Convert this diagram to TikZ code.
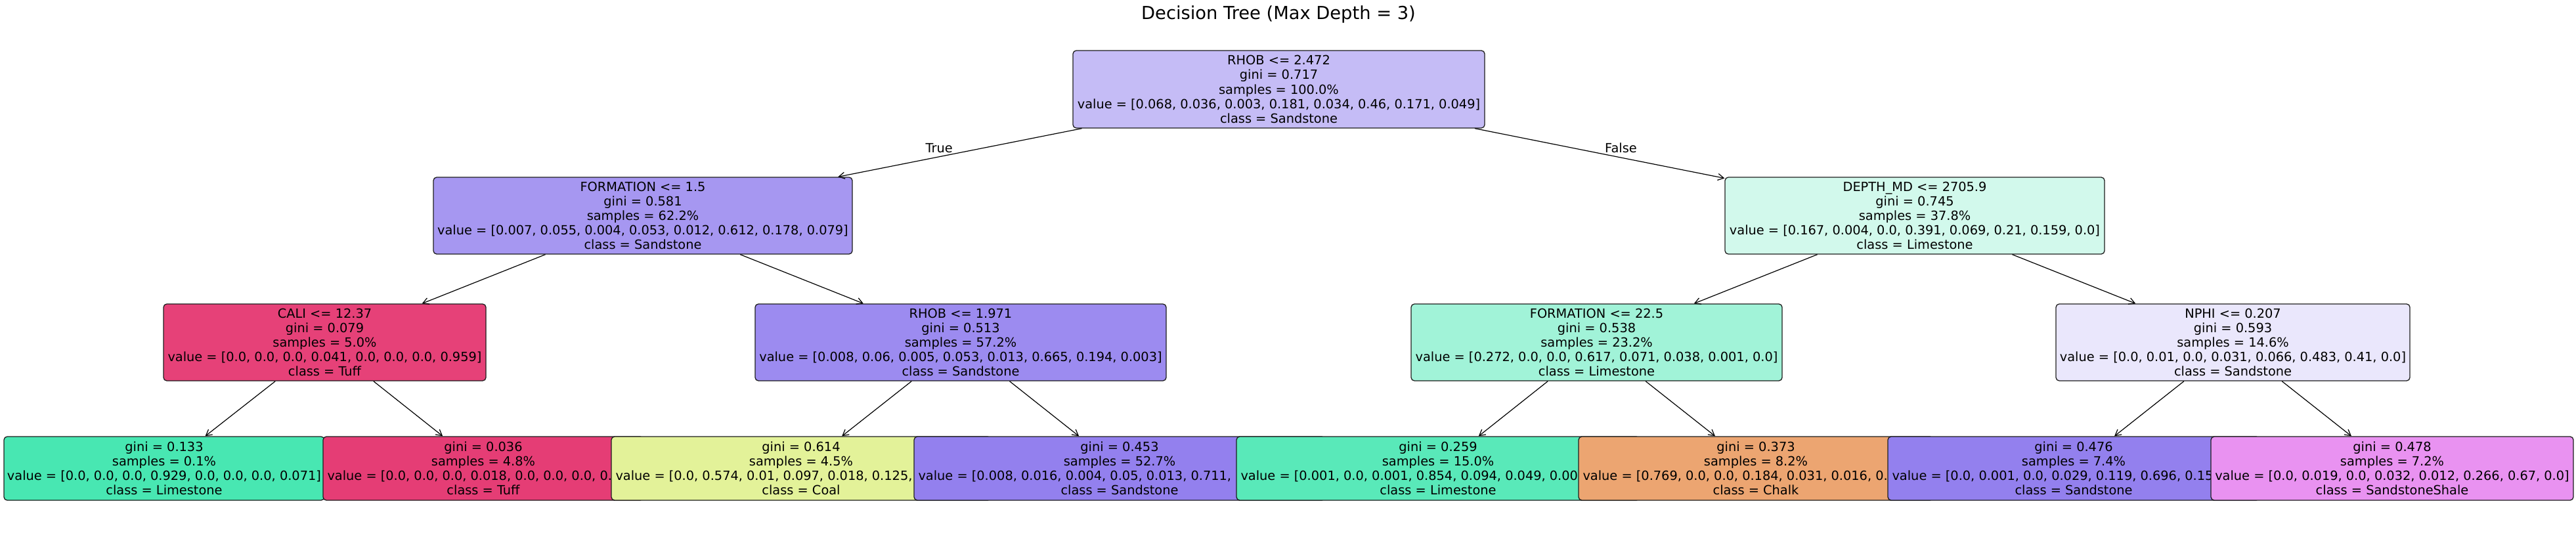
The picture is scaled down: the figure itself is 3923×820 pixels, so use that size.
\documentclass[tikz,border=0pt]{standalone}
\usepackage{fontspec}
\setmainfont{DejaVu Sans}
\usetikzlibrary{arrows.meta}
\newcommand\dtnodefont{\fontsize{19.35pt}{22.1pt}\selectfont}
\newcommand\dttitlefont{\fontsize{27.3pt}{32pt}\selectfont}
\definecolor{cEdge}{RGB}{30,30,30}
\definecolor{cRoot}{RGB}{197,188,246}
\definecolor{cFormA}{RGB}{166,151,241}
\definecolor{cDepth}{RGB}{210,249,236}
\definecolor{cCali}{RGB}{230,65,120}
\definecolor{cRhobB}{RGB}{156,139,240}
\definecolor{cFormB}{RGB}{161,243,216}
\definecolor{cNphi}{RGB}{234,231,252}
\definecolor{cLa}{RGB}{72,231,178}
\definecolor{cLb}{RGB}{229,61,117}
\definecolor{cLc}{RGB}{227,242,153}
\definecolor{cLd}{RGB}{147,128,238}
\definecolor{cLe}{RGB}{89,233,185}
\definecolor{cLf}{RGB}{236,165,113}
\definecolor{cLg}{RGB}{147,128,238}
\definecolor{cLh}{RGB}{233,146,241}
\begin{document}
\begin{tikzpicture}[x=1pt,y=-1pt,
  tbox/.style={draw=cEdge, line width=1.3pt, rounded corners=5pt, align=center,
               inner sep=0pt, font=\dtnodefont, minimum height=117pt},
  leafbox/.style={tbox, minimum height=97pt},
  arr/.style={-{Straight Barb[length=9pt,width=10pt]}, line width=1.2pt, draw=black},
  elab/.style={font=\dtnodefont, inner sep=0pt}]
\useasboundingbox (0,0) rectangle (3923,820);

\node[font=\dttitlefont, anchor=base, inner sep=0pt] (title) at (1947,29) {Decision Tree (Max Depth = 3)};

% root
\node[tbox, fill=cRoot, minimum width=627pt, minimum height=118pt] (root) at (1947.5,136)
  {RHOB <= 2.472\\gini = 0.717\\samples = 100.0\%\\value = [0.068, 0.036, 0.003, 0.181, 0.034, 0.46, 0.171, 0.049]\\class = Sandstone};

% left subtree
\node[tbox, fill=cFormA, minimum width=638pt] (formA) at (979,328.5)
  {FORMATION <= 1.5\\gini = 0.581\\samples = 62.2\%\\value = [0.007, 0.055, 0.004, 0.053, 0.012, 0.612, 0.178, 0.079]\\class = Sandstone};
\node[tbox, fill=cCali, minimum width=491pt] (cali) at (494.5,521.5)
  {CALI <= 12.37\\gini = 0.079\\samples = 5.0\%\\value = [0.0, 0.0, 0.0, 0.041, 0.0, 0.0, 0.0, 0.959]\\class = Tuff};
\node[leafbox, fill=cLa, minimum width=488pt] (la) at (250,713.5)
  {gini = 0.133\\samples = 0.1\%\\value = [0.0, 0.0, 0.0, 0.929, 0.0, 0.0, 0.0, 0.071]\\class = Limestone};
\node[leafbox, fill=cLb, minimum width=488pt] (lb) at (736,713.5)
  {gini = 0.036\\samples = 4.8\%\\\makebox[475pt][l]{value = [0.0, 0.0, 0.0, 0.018, 0.0, 0.0, 0.0, 0.}\\class = Tuff};
\node[tbox, fill=cRhobB, minimum width=626pt] (rhobB) at (1463,521.5)
  {RHOB <= 1.971\\gini = 0.513\\samples = 57.2\%\\value = [0.008, 0.06, 0.005, 0.053, 0.013, 0.665, 0.194, 0.003]\\class = Sandstone};
\node[leafbox, fill=cLc, minimum width=578pt] (lc) at (1220,713.5)
  {gini = 0.614\\samples = 4.5\%\\\makebox[565pt][l]{value = [0.0, 0.574, 0.01, 0.097, 0.018, 0.125,}\\class = Coal};
\node[leafbox, fill=cLd, minimum width=626pt] (ld) at (1705,713.5)
  {gini = 0.453\\samples = 52.7\%\\\makebox[613pt][l]{value = [0.008, 0.016, 0.004, 0.05, 0.013, 0.711,}\\class = Sandstone};

% right subtree
\node[tbox, fill=cDepth, minimum width=578pt] (depth) at (2916,328.5)
  {DEPTH\_MD <= 2705.9\\gini = 0.745\\samples = 37.8\%\\value = [0.167, 0.004, 0.0, 0.391, 0.069, 0.21, 0.159, 0.0]\\class = Limestone};
\node[tbox, fill=cFormB, minimum width=565pt] (formB) at (2431.5,521.5)
  {FORMATION <= 22.5\\gini = 0.538\\samples = 23.2\%\\value = [0.272, 0.0, 0.0, 0.617, 0.071, 0.038, 0.001, 0.0]\\class = Limestone};
\node[leafbox, fill=cLe, minimum width=614pt] (le) at (2190,713.5)
  {gini = 0.259\\samples = 15.0\%\\\makebox[601pt][l]{value = [0.001, 0.0, 0.001, 0.854, 0.094, 0.049, 0.00}\\class = Limestone};
\node[leafbox, fill=cLf, minimum width=540pt] (lf) at (2674,713.5)
  {gini = 0.373\\samples = 8.2\%\\\makebox[527pt][l]{value = [0.769, 0.0, 0.0, 0.184, 0.031, 0.016, 0.}\\class = Chalk};
\node[tbox, fill=cNphi, minimum width=539pt] (nphi) at (3400.5,521.5)
  {NPHI <= 0.207\\gini = 0.593\\samples = 14.6\%\\value = [0.0, 0.01, 0.0, 0.031, 0.066, 0.483, 0.41, 0.0]\\class = Sandstone};
\node[leafbox, fill=cLg, minimum width=566pt] (lg) at (3158,713.5)
  {gini = 0.476\\samples = 7.4\%\\\makebox[553pt][l]{value = [0.0, 0.001, 0.0, 0.029, 0.119, 0.696, 0.15}\\class = Sandstone};
\node[leafbox, fill=cLh, minimum width=552pt] (lh) at (3643,713.5)
  {gini = 0.478\\samples = 7.2\%\\value = [0.0, 0.019, 0.0, 0.032, 0.012, 0.266, 0.67, 0.0]\\class = SandstoneShale};

% connectors
\draw[arr] (root) -- (formA);
\draw[arr] (root) -- (depth);
\draw[arr] (formA) -- (cali);
\draw[arr] (formA) -- (rhobB);
\draw[arr] (cali) -- (la);
\draw[arr] (cali) -- (lb);
\draw[arr] (rhobB) -- (lc);
\draw[arr] (rhobB) -- (ld);
\draw[arr] (depth) -- (formB);
\draw[arr] (depth) -- (nphi);
\draw[arr] (formB) -- (le);
\draw[arr] (formB) -- (lf);
\draw[arr] (nphi) -- (lg);
\draw[arr] (nphi) -- (lh);

\node[elab, anchor=base east] (tlab) at (1451,232) {True};
\node[elab, anchor=base west] (flab) at (2444,232) {False};
\end{tikzpicture}
\end{document}
